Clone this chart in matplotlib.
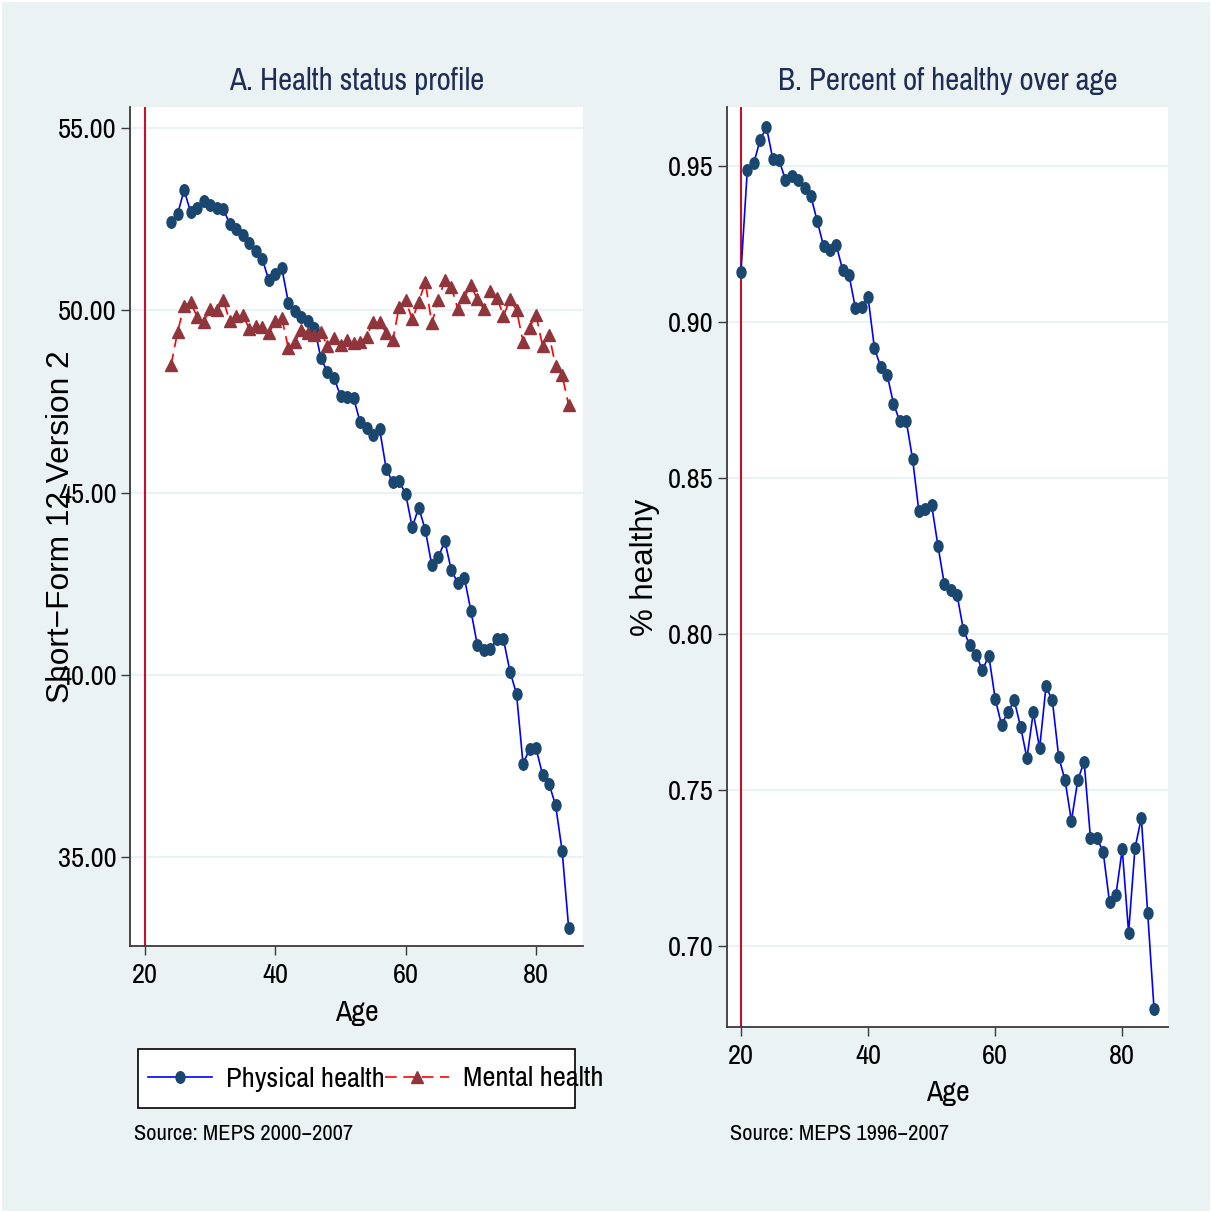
import matplotlib
matplotlib.use("Agg")
import matplotlib.pyplot as plt
from matplotlib import font_manager as fm
from matplotlib.patches import Rectangle
from matplotlib.path import Path
from matplotlib.transforms import Affine2D
from matplotlib.lines import Line2D
from matplotlib.ticker import FormatStrFormatter

# ---------------- data ----------------
ages_a = [24, 25, 26, 27, 28, 29, 30, 31, 32, 33, 34, 35, 36, 37, 38, 39, 40,
          41, 42, 43, 44, 45, 46, 47, 48, 49, 50, 51, 52, 53, 54, 55, 56, 57,
          58, 59, 60, 61, 62, 63, 64, 65, 66, 67, 68, 69, 70, 71, 72, 73, 74,
          75, 76, 77, 78, 79, 80, 81, 82, 83, 84, 85]
physical = [52.43, 52.64, 53.30, 52.70, 52.80, 53.01, 52.89, 52.80, 52.78, 52.38,
            52.22, 52.06, 51.84, 51.63, 51.40, 50.83, 50.99, 51.15, 50.21, 49.99,
            49.81, 49.71, 49.52, 48.68, 48.31, 48.15, 47.65, 47.63, 47.60, 46.94,
            46.76, 46.58, 46.74, 45.66, 45.28, 45.31, 44.96, 44.05, 44.59, 43.98,
            43.01, 43.22, 43.67, 42.87, 42.52, 42.66, 41.76, 40.81, 40.67, 40.70,
            40.99, 40.97, 40.09, 39.48, 37.56, 37.96, 37.98, 37.26, 37.00, 36.42,
            35.17, 33.06]
mental = [48.50, 49.41, 50.13, 50.22, 49.82, 49.69, 50.03, 50.00, 50.28, 49.71,
          49.84, 49.87, 49.50, 49.57, 49.55, 49.37, 49.71, 49.78, 48.96, 49.14,
          49.46, 49.39, 49.32, 49.41, 49.02, 49.23, 49.05, 49.20, 49.11, 49.13,
          49.28, 49.69, 49.69, 49.38, 49.18, 50.10, 50.28, 49.75, 50.23, 50.78,
          49.64, 50.28, 50.83, 50.65, 50.03, 50.37, 50.69, 50.30, 50.03, 50.54,
          50.35, 49.85, 50.30, 50.01, 49.14, 49.53, 49.87, 49.02, 49.32, 48.47,
          48.22, 47.40]

ages_b = [20, 21, 22, 23, 24, 25, 26, 27, 28, 29, 30, 31, 32, 33, 34, 35, 36,
          37, 38, 39, 40, 41, 42, 43, 44, 45, 46, 47, 48, 49, 50, 51, 52, 53,
          54, 55, 56, 57, 58, 59, 60, 61, 62, 63, 64, 65, 66, 67, 68, 69, 70,
          71, 72, 73, 74, 75, 76, 77, 78, 79, 80, 81, 82, 83, 84, 85]
pct_healthy = [0.9162, 0.9489, 0.9509, 0.9583, 0.9626, 0.9524, 0.9519, 0.9457,
               0.9470, 0.9457, 0.9431, 0.9404, 0.9324, 0.9244, 0.9233, 0.9247,
               0.9167, 0.9151, 0.9046, 0.9049, 0.9080, 0.8917, 0.8856, 0.8832,
               0.8739, 0.8682, 0.8684, 0.8562, 0.8393, 0.8402, 0.8414, 0.8283,
               0.8160, 0.8140, 0.8126, 0.8014, 0.7964, 0.7933, 0.7884, 0.7931,
               0.7793, 0.7709, 0.7749, 0.7787, 0.7703, 0.7602, 0.7749, 0.7634,
               0.7832, 0.7787, 0.7606, 0.7531, 0.7401, 0.7531, 0.7591, 0.7345,
               0.7347, 0.7301, 0.7140, 0.7163, 0.7310, 0.7043, 0.7313, 0.7410,
               0.7106, 0.6799]

xticks = [20, 40, 60, 80]
yticks_a = [35, 40, 45, 50, 55]
yticks_b = [0.70, 0.75, 0.80, 0.85, 0.90, 0.95]
ref_age = 20

title_a = "A. Health status profile"
title_b = "B. Percent of healthy over age"
ylabel_a = "Short\u2212Form 12 Version 2"
ylabel_b = "% healthy"
xlabel = "Age"
source_a = "Source: MEPS 2000\u22122007"
source_b = "Source: MEPS 1996\u22122007"
legend_labels = ["Physical health", "Mental health"]

# ---------------- fonts ----------------
avail = {f.name for f in fm.fontManager.ttflist}
cands = ['Nimbus Sans Narrow', 'Liberation Sans Narrow', 'Arial Narrow',
         'Archivo Narrow', 'PT Sans Narrow', 'Roboto Condensed',
         'Pragati Narrow', 'Sofia Sans Condensed', 'Open Sans Condensed',
         'Fira Sans Condensed', 'IBM Plex Sans Condensed',
         'Encode Sans Condensed', 'Asap Condensed', 'Barlow Semi Condensed']
narrow_name = next((c for c in cands if c in avail), 'Liberation Sans')
NARROW = [narrow_name, 'Liberation Sans', 'DejaVu Sans']
WIDE = ['Liberation Sans', 'DejaVu Sans']
plt.rcParams['font.family'] = NARROW

# ---------------- style ----------------
BG = '#EAF2F3'
NAVY = '#1A476F'
MAROON = '#90353B'
TITLE_C = '#1F2D55'
SPINE_C = '#3A3A3A'
REDLINE = '#C8102E'

W, H = 1212, 1213
fig = plt.figure(figsize=(W / 100, H / 100), dpi=100, facecolor='white')
fig.patches.append(Rectangle((2 / W, 2 / H), 1 - 4 / W, 1 - 4 / H,
                             transform=fig.transFigure, facecolor=BG,
                             edgecolor='none', zorder=-10))

ellipse = Path.unit_circle().transformed(Affine2D().scale(0.78, 1.0))


def fx(px):
    return px / W


def fy(py):
    return 1 - py / H


def style_axes(ax, yticks, fmt):
    ax.set_facecolor('white')
    for s in ['top', 'right']:
        ax.spines[s].set_visible(False)
    for s in ['left', 'bottom']:
        ax.spines[s].set_color(SPINE_C)
        ax.spines[s].set_linewidth(1.3)
    ax.set_xticks(xticks)
    ax.set_yticks(yticks)
    ax.yaxis.set_major_formatter(FormatStrFormatter(fmt))
    ax.tick_params(axis='both', direction='out', length=6.5, width=1.0,
                   color=SPINE_C, labelsize=20.5, labelcolor='black')
    ax.tick_params(axis='x', pad=6)
    ax.tick_params(axis='y', pad=3)
    ax.grid(axis='y', color=BG, linewidth=1.6)
    ax.grid(axis='x', visible=False)
    ax.set_axisbelow(True)
    ax.axvline(ref_age, color=REDLINE, linewidth=1.5, zorder=1.5)


# ---------------- panel A ----------------
axA = fig.add_axes([fx(130), fy(946), fx(453), 839 / H])
style_axes(axA, yticks_a, '%.2f')
axA.plot(ages_a, physical, color='#0000FF', linewidth=1.2,
         marker=ellipse, markersize=8.3, markerfacecolor=NAVY,
         markeredgecolor=NAVY, zorder=3)
axA.plot(ages_a, mental, color='#FF0000', linewidth=1.2,
         linestyle=(0, (7, 4)), marker='^', markersize=9,
         markerfacecolor=MAROON, markeredgecolor=MAROON, zorder=3)
axA.set_xlim(17.7, 87.2)
axA.set_ylim(32.56, 55.58)
axA.set_ylabel(ylabel_a, family=WIDE, fontsize=22.8)
axA.yaxis.set_label_coords((61 - 130) / 453, 0.5)
axA.yaxis.label.set_va('center')
axA.set_xlabel(xlabel, fontsize=21.5)
axA.xaxis.set_label_coords(0.5, (946 - 1012) / 839)
axA.xaxis.label.set_va('center')

# ---------------- panel B ----------------
axB = fig.add_axes([fx(727), fy(1027), fx(441), 920 / H])
style_axes(axB, yticks_b, '%.2f')
axB.plot(ages_b, pct_healthy, color='#0000FF', linewidth=1.2,
         marker=ellipse, markersize=8.3, markerfacecolor=NAVY,
         markeredgecolor=NAVY, zorder=3)
axB.set_xlim(17.8, 87.2)
axB.set_ylim(0.674, 0.969)
axB.set_ylabel(ylabel_b, family=WIDE, fontsize=22.5)
axB.yaxis.set_label_coords((645 - 727) / 441, 0.5)
axB.yaxis.label.set_va('center')
axB.set_xlabel(xlabel, fontsize=21.5)
axB.xaxis.set_label_coords(0.5, (1027 - 1093) / 920)
axB.xaxis.label.set_va('center')

# ---------------- titles & notes ----------------
fig.text(fx(356.5), fy(81), title_a, ha='center', va='center',
         fontsize=22.2, color=TITLE_C)
fig.text(fx(947.5), fy(81), title_b, ha='center', va='center',
         fontsize=22.2, color=TITLE_C)
fig.text(fx(134), fy(1134), source_a, ha='left', va='center',
         fontsize=16.2, color='black')
fig.text(fx(730), fy(1134), source_b, ha='left', va='center',
         fontsize=16.2, color='black')

# ---------------- legend ----------------
fig.patches.append(Rectangle((fx(138), fy(1108)), fx(575 - 138), (1108 - 1049) / H,
                             transform=fig.transFigure, facecolor='white',
                             edgecolor='black', linewidth=1.2, zorder=1))
handles = [
    Line2D([], [], color='#0000FF', linewidth=1.2, marker=ellipse,
           markersize=8.3, markerfacecolor=NAVY, markeredgecolor=NAVY),
    Line2D([], [], color='#FF0000', linewidth=1.2, linestyle=(0, (7, 4)),
           marker='^', markersize=9, markerfacecolor=MAROON,
           markeredgecolor=MAROON),
]
leg = fig.legend(handles, legend_labels, loc='center left',
                 bbox_to_anchor=(fx(148), fy(1079)),
                 bbox_transform=fig.transFigure, ncol=2, frameon=False,
                 fontsize=20.5, numpoints=1, handlelength=2.25,
                 handletextpad=0.49, columnspacing=0.0, borderpad=0,
                 borderaxespad=0)
leg.set_zorder(5)

fig.savefig('out.png', dpi=100, facecolor='white')
